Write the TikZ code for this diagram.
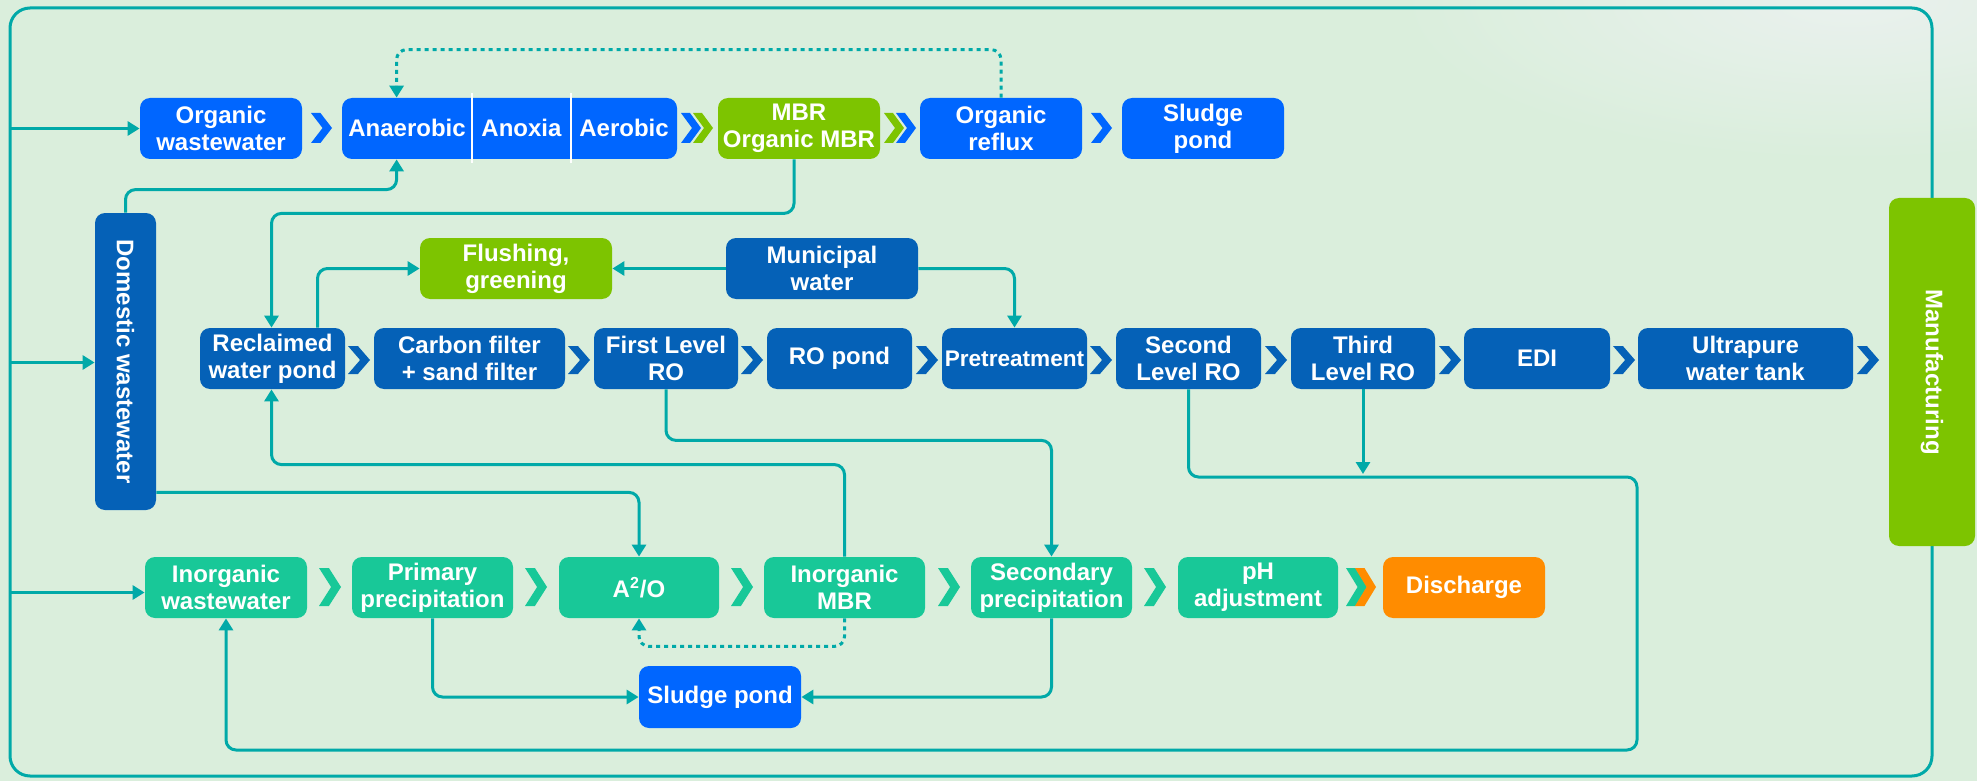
\documentclass[tikz,border=0pt]{standalone}
\usepackage{fontspec}
\setmainfont{Liberation Sans}
\usetikzlibrary{arrows.meta,calc}
\definecolor{bgc}{RGB}{218,238,220}
\definecolor{teal1}{RGB}{0,169,168}
\definecolor{bblue}{RGB}{0,102,255}
\definecolor{dblue}{RGB}{5,97,183}
\definecolor{lgreen}{RGB}{125,196,0}
\definecolor{tgreen}{RGB}{24,200,152}
\definecolor{orng}{RGB}{255,140,0}
\newcommand\bx[7]{\node[pbox,fill=#6,minimum width={(#4-#2)*0.5pt},minimum height={(#5-#3)*0.5pt}] (#1) at ({(#2+#4)/2},{(#3+#5)/2}) {#7};}
\newcommand\chevr[5]{\fill[#5] (#1,{#2-#3/2}) -- ({#1+#4*0.45},{#2-#3/2}) -- ({#1+#4},#2) -- ({#1+#4*0.45},{#2+#3/2}) -- (#1,{#2+#3/2}) -- ({#1+#4*0.55},#2) -- cycle;}
\begin{document}
\begin{tikzpicture}[x=0.5pt,y=-0.5pt,
  pbox/.style={rounded corners=5pt,inner sep=0pt,text=white,align=center,font={\fontsize{12}{13.5}\selectfont\bfseries}},
  conn/.style={line width=1.5pt,draw=teal1,rounded corners=5pt},
  arr/.style={conn,-{Triangle[length=6pt,width=7pt]}},
  dotarr/.style={arr,dash pattern=on 2pt off 2pt}]
\useasboundingbox (0,0) rectangle (1977,781);
\fill[bgc] (0,0) rectangle (1977,781);
\shade[inner color={rgb,255:red,234;green,241;blue,238},outer color=bgc] (1850,0) ellipse (450 and 160);
% frame
\draw[line width=1.5pt,draw=teal1,rounded corners=10pt] (10,8) rectangle (1932,776);
\coordinate (fl) at (10,0);
% row 1
\bx{ow}{140}{98}{302}{159}{bblue}{Organic\\wastewater}
\bx{ana}{342}{98}{677}{159}{bblue}{}
\node[pbox] (ana1) at (407,128) {Anaerobic};
\node[pbox] (ana2) at (521.5,128) {Anoxia};
\node[pbox] (ana3) at (624,128) {Aerobic};
\draw[white,line width=1pt] (472,93) -- (472,163) (571,93) -- (571,163);
\bx{mbr}{718}{98}{880}{159}{lgreen}{MBR\\Organic MBR}
\bx{orf}{920}{98}{1082}{159}{bblue}{Organic\\reflux}
\bx{sp1}{1122}{98}{1284}{159}{bblue}{Sludge\\pond}
\chevr{311}{128}{30}{21}{bblue}
\chevr{681}{128}{30}{20}{bblue}
\chevr{693}{128}{30}{20}{lgreen}
\chevr{884}{128}{30}{20}{lgreen}
\chevr{896}{128}{30}{20}{bblue}
\chevr{1091}{128}{30}{21}{bblue}
% domestic
\bx{dom}{95}{213}{156}{510}{dblue}{}
\node[pbox,rotate=-90] (domt) at (dom.center) {Domestic wastewater};
% row 2
\bx{flush}{420}{238}{612}{299}{lgreen}{Flushing,\\greening}
\bx{mun}{726}{238}{918}{299}{dblue}{Municipal\\water}
\bx{rwp}{200}{328}{345}{389}{dblue}{Reclaimed\\water pond}
\bx{cf}{374}{328}{565}{389}{dblue}{Carbon filter\\+ sand filter}
\bx{ro1}{594}{328}{738}{389}{dblue}{First Level\\RO}
\bx{rop}{767}{328}{912}{389}{dblue}{RO pond}
\bx{pre}{942}{328}{1087}{389}{dblue}{\fontsize{11.3}{13.5}\selectfont Pretreatment}
\bx{ro2}{1116}{328}{1261}{389}{dblue}{Second\\Level RO}
\bx{ro3}{1291}{328}{1435}{389}{dblue}{Third\\Level RO}
\bx{edi}{1464}{328}{1610}{389}{dblue}{EDI}
\bx{upw}{1638}{328}{1853}{389}{dblue}{Ultrapure\\water tank}
\foreach \cx in {348,568,741,916,1090,1265,1439,1613,1857}{\chevr{\cx}{360}{28}{22}{dblue}}
% manufacturing
\bx{manu}{1889}{198}{1975}{546}{lgreen}{}
\node[pbox,rotate=-90] (manut) at (manu.center) {Manufacturing};
% row 3
\bx{iww}{145}{557}{307}{618}{tgreen}{Inorganic\\wastewater}
\bx{pp}{352}{557}{513}{618}{tgreen}{Primary\\precipitation}
\bx{a2o}{559}{557}{719}{618}{tgreen}{A\textsuperscript{2}/O}
\bx{imbr}{764}{557}{925}{618}{tgreen}{Inorganic\\MBR}
\bx{sec}{971}{557}{1132}{618}{tgreen}{Secondary\\precipitation}
\bx{ph}{1178}{557}{1338}{618}{tgreen}{pH\\adjustment}
\bx{dis}{1383}{557}{1545}{618}{orng}{Discharge}
\bx{sp2}{639}{666}{801}{728}{bblue}{Sludge pond}
\foreach \cx in {319,525,731,938,1144}{\chevr{\cx}{587}{38}{22}{tgreen}}
\chevr{1346}{587}{38}{21}{tgreen}
\chevr{1355}{587}{38}{21}{orng}
% connectors
\draw[arr] (ow.west -| fl) -- (ow.west);
\draw[arr] ($(dom.west -| fl)+(0,1)$) -- ($(dom.west)+(0,1)$);
\draw[arr] ($(iww.west -| fl)+(0,5)$) -- ($(iww.west)+(0,5)$);
\draw[dotarr] (orf.north) -- ++(0,-48) -| ($(ana.north west)+(55,0)$);
\draw[arr] (dom.north) -- ++(0,-23) -| ($(ana.south west)+(55,0)$);
\draw[arr] ($(mbr.south)+(-5,0)$) -- ++(0,54) -| ($(rwp.north)+(-1,0)$);
\draw[arr] ($(rwp.north)+(45,0)$) |- (flush.west);
\draw[arr] (mun.west) -- (flush.east);
\draw[arr] (mun.east) -| (pre.north);
\draw[arr] (imbr.north) -- ++(0,-92) -| ($(rwp.south)+(-1,0)$);
\draw[arr] (ro1.south) -- ++(0,51) -| (sec.north);
\draw[arr] ($(dom.south east)+(0,-18)$) -| (a2o.north);
\coordinate (rr1) at (1637,477);
\coordinate (rr2) at (1637,750);
\draw[arr] (ro2.south) |- (rr1) -- (rr2) -| (iww.south);
\draw[arr] (ro3.south) -- ($(ro3.south |- rr1)+(0,-3)$);
\draw[arr] (pp.south) |- (sp2.west);
\draw[arr] (sec.south) |- (sp2.east);
\draw[dotarr] (imbr.south) -- ++(0,28) -| (a2o.south);
\end{tikzpicture}
\end{document}
